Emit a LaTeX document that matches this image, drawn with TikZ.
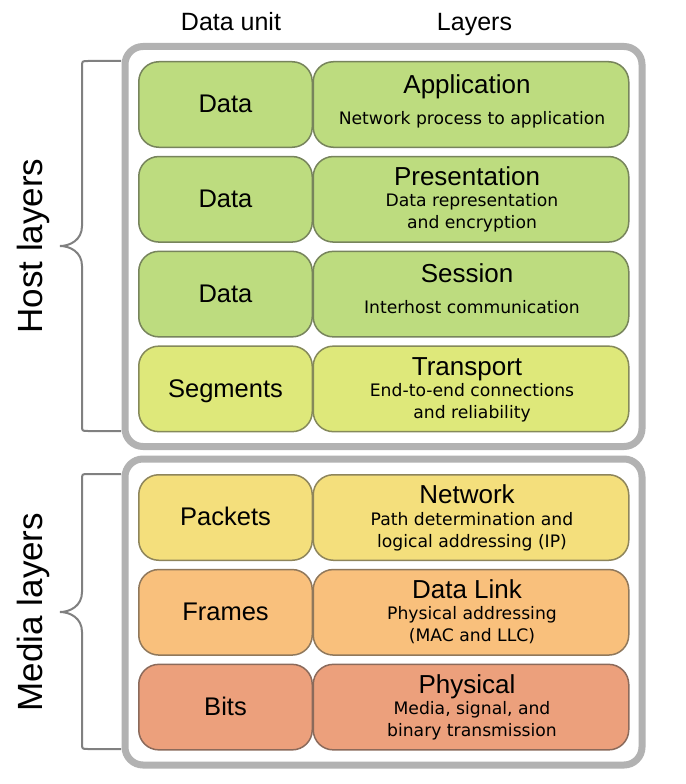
\documentclass[tikz,border=0pt]{standalone}
\usepackage{fontspec}
\setmainfont{Liberation Sans}
\newfontfamily\subfont{DejaVu Sans}
\definecolor{cgreen}{HTML}{BDDC7F}
\definecolor{cylgr}{HTML}{DEE87A}
\definecolor{cyell}{HTML}{F4DF7C}
\definecolor{corng}{HTML}{F9C07C}
\definecolor{csalm}{HTML}{ECA07C}
\definecolor{cframe}{HTML}{B2B2B2}
\definecolor{cbrace}{HTML}{808080}
\tikzset{
  unitbox/.style={draw=#1!50!black!85, fill=#1, rounded corners=20, line width=1.5,
    minimum width=173.5, minimum height=85.5, inner sep=0, anchor=north west},
  layerbox/.style={draw=#1!50!black!85, fill=#1, rounded corners=20, line width=1.5,
    minimum width=315.5, minimum height=85.5, inner sep=0, anchor=north west},
  unittext/.style={font=\fontsize{25.5}{30}\selectfont, inner sep=0, text height=18.3, text depth=0},
  titletext/.style={font=\fontsize{26}{30}\selectfont, inner sep=0, text height=18.6, text depth=0},
  subtext/.style={font=\subfont\fontsize{17.2}{20}\selectfont, inner sep=0, text height=12, text depth=0},
  headtext/.style={font=\fontsize{25}{30}\selectfont, inner sep=0, text height=18, text depth=0},
  sidetext/.style={font=\fontsize{35}{40}\selectfont, inner sep=0, text height=25, text depth=0, rotate=90},
  frame/.style={draw=cframe, line width=7, rounded corners=18},
  bracepath/.style={draw=cbrace, line width=2}
}
\newcommand{\osirowA}[6]{%
  \node[unitbox=#3] (#1u) at (138,#2) {};
  \node[layerbox=#3] (#1l) at (312.5,#2) {};
  \node[unittext] (#1ut) at ([yshift=-42.5]#1u.north) {#4};
  \node[titletext] (#1t) at ([xshift=-4,yshift=-23]#1l.north) {#5};
  \node[subtext] (#1s) at ([xshift=1,yshift=-57]#1l.north) {#6};
}
\newcommand{\osirowB}[7]{%
  \node[unitbox=#3] (#1u) at (138,#2) {};
  \node[layerbox=#3] (#1l) at (312.5,#2) {};
  \node[unittext] (#1ut) at ([yshift=-42.5]#1u.north) {#4};
  \node[titletext] (#1t) at ([xshift=-4,yshift=-20.5]#1l.north) {#5};
  \node[subtext] (#1s) at ([xshift=1,yshift=-45]#1l.north) {#6};
  \node[subtext] (#1r) at ([xshift=1,yshift=-67]#1l.north) {#7};
}
\begin{document}
\begin{tikzpicture}[x=1pt,y=-1pt]
\useasboundingbox[fill=white] (0,0) rectangle (685,784);
% headers
\node[headtext] (hdu) at (231,22) {Data unit};
\node[headtext] (hly) at (474.5,22) {Layers};
% frames
\draw[frame] (125,46.5) rectangle (642,446.5);
\draw[frame] (125,459) rectangle (642,765);
% rows
\osirowA{app}{61}{cgreen}{Data}{Application}{Network process to application}
\osirowB{pre}{155.8}{cgreen}{Data}{Presentation}{Data representation}{and encryption}
\osirowA{ses}{250.6}{cgreen}{Data}{Session}{Interhost communication}
\osirowB{tra}{345.4}{cylgr}{Segments}{Transport}{End-to-end connections}{and reliability}
\osirowB{net}{474}{cyell}{Packets}{Network}{Path determination and}{logical addressing (IP)}
\osirowB{dat}{568.8}{corng}{Frames}{Data Link}{Physical addressing}{(MAC and LLC)}
\osirowB{phy}{663.6}{csalm}{Bits}{Physical}{Media, signal, and}{binary transmission}
% braces
\draw[bracepath] (121,61) -- (88,61) .. controls (82,61) .. (82,67) -- (82,226)
  .. controls (82,240) and (70,246) .. (60,246)
  .. controls (70,246) and (82,252) .. (82,266) -- (82,425)
  .. controls (82,431) .. (88,431) -- (121,431);
\draw[bracepath] (121,474) -- (88,474) .. controls (82,474) .. (82,480) -- (82,592)
  .. controls (82,606) and (70,612) .. (60,612)
  .. controls (70,612) and (82,618) .. (82,632) -- (82,743)
  .. controls (82,749) .. (88,749) -- (121,749);
% side labels
\node[sidetext] (host) at (30,246) {Host layers};
\node[sidetext] (media) at (30,612) {Media layers};
\end{tikzpicture}
\end{document}
